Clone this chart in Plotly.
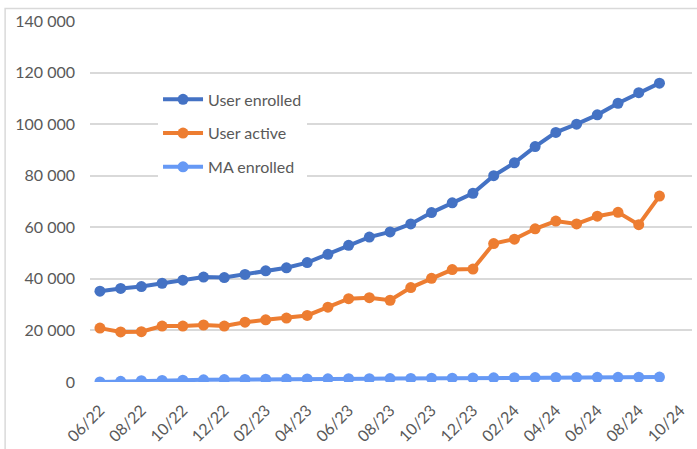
import plotly.graph_objects as go

months = ["06/22", "07/22", "08/22", "09/22", "10/22", "11/22", "12/22",
          "01/23", "02/23", "03/23", "04/23", "05/23", "06/23", "07/23",
          "08/23", "09/23", "10/23", "11/23", "12/23", "01/24", "02/24",
          "03/24", "04/24", "05/24", "06/24", "07/24", "08/24", "09/24",
          "10/24"]

user_enrolled = [35200, 36300, 37000, 38300, 39500, 40700, 40500, 41700,
                 43100, 44300, 46300, 49500, 53000, 56200, 58200, 61300,
                 65700, 69500, 73200, 80000, 85000, 91300, 96800, 100000,
                 103600, 108100, 112200, 115900]
user_active = [20900, 19400, 19500, 21700, 21700, 22100, 21700, 23200,
               24100, 24800, 25800, 29000, 32300, 32700, 31700, 36600,
               40200, 43600, 43800, 53700, 55400, 59400, 62400, 61300,
               64300, 65800, 61000, 72100]
ma_enrolled = [0, 250, 500, 600, 700, 850, 950, 1000, 1100, 1150, 1200,
               1250, 1300, 1300, 1350, 1400, 1450, 1500, 1550, 1600, 1650,
               1700, 1750, 1750, 1800, 1800, 1850, 1900]

y_ticks = [0, 20000, 40000, 60000, 80000, 100000, 120000, 140000]

series = [
    ("User enrolled", user_enrolled, "#4472C4"),
    ("User active", user_active, "#ED7D31"),
    ("MA enrolled", ma_enrolled, "#6699F5"),
]

fig = go.Figure()
for name, vals, color in series:
    fig.add_trace(go.Scatter(
        x=list(range(len(vals))), y=vals, name=name, mode="lines+markers",
        line=dict(color=color, width=4),
        marker=dict(color=color, size=11),
        legendgroup=name,
    ))

tick_idx = list(range(0, len(months), 2))
gray = "#595959"
fig.update_layout(
    width=697, height=449,
    margin=dict(l=90, r=5, t=20.5, b=67.3),
    paper_bgcolor="white", plot_bgcolor="white",
    font=dict(family="Lato", size=16, color=gray),
    separators=", ",
    showlegend=True,
    legend=dict(x=0.113, y=0.83, xanchor="left", yanchor="top",
                bgcolor="white", font=dict(size=16, color=gray),
                tracegroupgap=10, itemwidth=40),
    xaxis=dict(range=[-0.48, 28.57], tickmode="array", tickvals=tick_idx,
               ticktext=[months[i] for i in tick_idx], tickangle=-45,
               showgrid=False, zeroline=False, showline=False,
               automargin=False,
               ticklabelstandoff=15, tickfont=dict(size=16, color=gray)),
    yaxis=dict(range=[0, 140000], tickvals=y_ticks, tickformat=",d",
               showgrid=True, gridcolor="#d9d9d9", gridwidth=1.5,
               zeroline=False, showline=False, ticklabelstandoff=14,
               automargin=False,
               tickfont=dict(size=16, color=gray)),
    shapes=[dict(type="rect", xref="paper", yref="paper",
                 x0=-0.141, x1=1.02, y0=-0.25, y1=1.0346,
                 line=dict(color="#d9d9d9", width=1.5), layer="below")],
)

fig.write_html("out.html", config={"displayModeBar": False},
               post_script="document.body.style.margin='0';")
